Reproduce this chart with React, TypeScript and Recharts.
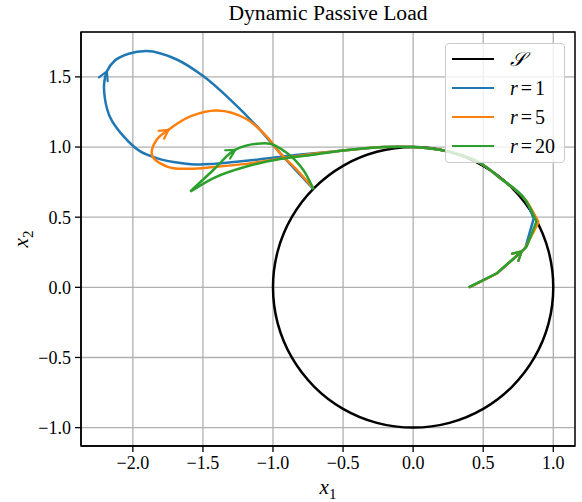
import React from 'react';
import { LineChart, Line, XAxis, YAxis, CartesianGrid, ReferenceArea } from 'recharts';

type P = { x: number; y: number; arrow?: boolean };

const FONT = '"Liberation Serif", "Times New Roman", serif';
const BLUE = '#1f77b4';
const ORANGE = '#ff7f0e';
const GREEN = '#2ca02c';

const X_DOMAIN: [number, number] = [-2.37, 1.155];
const Y_DOMAIN: [number, number] = [-1.131, 1.82];
const xTicks = [-2, -1.5, -1, -0.5, 0, 0.5, 1];
const yTicks = [-1, -0.5, 0, 0.5, 1, 1.5];

const legendLabels = ['𝒮', 'r = 1', 'r = 5', 'r = 20'];

// unit circle S, sampled every 15 degrees
const circlePts: P[] = [
  { x: 1, y: 0 }, { x: 0.966, y: 0.259 }, { x: 0.866, y: 0.5 }, { x: 0.707, y: 0.707 },
  { x: 0.5, y: 0.866 }, { x: 0.259, y: 0.966 }, { x: 0, y: 1 }, { x: -0.259, y: 0.966 },
  { x: -0.5, y: 0.866 }, { x: -0.707, y: 0.707 }, { x: -0.866, y: 0.5 }, { x: -0.966, y: 0.259 },
  { x: -1, y: 0 }, { x: -0.966, y: -0.259 }, { x: -0.866, y: -0.5 }, { x: -0.707, y: -0.707 },
  { x: -0.5, y: -0.866 }, { x: -0.259, y: -0.966 }, { x: 0, y: -1 }, { x: 0.259, y: -0.966 },
  { x: 0.5, y: -0.866 }, { x: 0.707, y: -0.707 }, { x: 0.866, y: -0.5 }, { x: 0.966, y: -0.259 },
  { x: 1, y: 0 },
];

// first leg (0.4, 0) -> corner near the circle
const blueStart: P[] = [
  { x: 0.4, y: 0 }, { x: 0.6, y: 0.1 }, { x: 0.775, y: 0.256, arrow: true }, { x: 0.8, y: 0.28 }, { x: 0.86, y: 0.49 },
];
const orangeStart: P[] = [
  { x: 0.4, y: 0 }, { x: 0.6, y: 0.1 }, { x: 0.775, y: 0.256, arrow: true }, { x: 0.8, y: 0.28 }, { x: 0.895, y: 0.465 },
];
const greenStart: P[] = [
  { x: 0.395, y: 0 }, { x: 0.597, y: 0.1 }, { x: 0.775, y: 0.256, arrow: true }, { x: 0.81, y: 0.29 }, { x: 0.88, y: 0.47 },
];

// shared run along the circle and leftwards over the top
const topRun: P[] = [
  { x: 0.8, y: 0.625 }, { x: 0.62, y: 0.78 }, { x: 0.478, y: 0.886 }, { x: 0.19, y: 0.98 },
  { x: 0, y: 1.0 }, { x: -0.21, y: 1.0 }, { x: -0.5, y: 0.975 },
];

const blueLoop: P[] = [
  { x: -0.8, y: 0.946 }, { x: -1.19, y: 0.902 }, { x: -1.426, y: 0.88 }, { x: -1.52, y: 0.875 },
  { x: -1.66, y: 0.886 }, { x: -1.83, y: 0.921 }, { x: -1.947, y: 0.969 }, { x: -2.066, y: 1.076 },
  { x: -2.165, y: 1.218 }, { x: -2.2, y: 1.35 }, { x: -2.205, y: 1.45 }, { x: -2.185, y: 1.54, arrow: true },
  { x: -2.13, y: 1.615 }, { x: -2.03, y: 1.665 }, { x: -1.9, y: 1.684 }, { x: -1.687, y: 1.624 },
  { x: -1.496, y: 1.504 }, { x: -1.305, y: 1.338 }, { x: -1.115, y: 1.147 }, { x: -0.949, y: 0.957 },
  { x: -0.711, y: 0.7 },
];

const orangeLoop: P[] = [
  { x: -0.8, y: 0.94 }, { x: -1.19, y: 0.88 }, { x: -1.424, y: 0.858 }, { x: -1.59, y: 0.845 },
  { x: -1.76, y: 0.862 }, { x: -1.864, y: 0.945 }, { x: -1.83, y: 1.052 }, { x: -1.745, y: 1.123, arrow: true },
  { x: -1.59, y: 1.218 }, { x: -1.4, y: 1.261 }, { x: -1.19, y: 1.2 }, { x: -1.046, y: 1.076 },
  { x: -0.95, y: 0.957 }, { x: -0.83, y: 0.838 }, { x: -0.711, y: 0.705 },
];

const greenLower: P[] = [
  { x: -0.713, y: 0.945 }, { x: -0.95, y: 0.914 }, { x: -1.19, y: 0.861 }, { x: -1.424, y: 0.779 },
  { x: -1.59, y: 0.683 },
];
const greenUpper: P[] = [
  { x: -1.59, y: 0.683 }, { x: -1.424, y: 0.838 }, { x: -1.27, y: 0.98, arrow: true }, { x: -1.115, y: 1.024 },
  { x: -1.02, y: 1.024 }, { x: -0.9, y: 0.957 }, { x: -0.785, y: 0.838 }, { x: -0.71, y: 0.7 },
];

const blueRest = [blueStart[blueStart.length - 1], ...topRun, ...blueLoop];
const orangeRest = [orangeStart[orangeStart.length - 1], ...topRun, ...orangeLoop];
const greenRest = [greenStart[greenStart.length - 1], ...topRun, ...greenLower];

// chord-length Catmull-Rom style curve factory (d3 curve interface)
const smoothCurve = (context: any) => {
  let pts: number[][] = [];
  return {
    areaStart() {},
    areaEnd() {},
    lineStart() { pts = []; },
    point(x: number, y: number) { pts.push([+x, +y]); },
    lineEnd() {
      const n = pts.length;
      if (!n) return;
      context.moveTo(pts[0][0], pts[0][1]);
      if (n < 3) {
        for (let i = 1; i < n; i++) context.lineTo(pts[i][0], pts[i][1]);
        return;
      }
      const closed = Math.abs(pts[0][0] - pts[n - 1][0]) < 1e-6 && Math.abs(pts[0][1] - pts[n - 1][1]) < 1e-6;
      const d = (a: number[], b: number[]) => Math.hypot(b[0] - a[0], b[1] - a[1]) || 1e-9;
      const tangent = (i: number) => {
        let prev: number[], next: number[];
        if (i === 0) {
          if (closed) { prev = pts[n - 2]; next = pts[1]; }
          else { const t = [pts[1][0] - pts[0][0], pts[1][1] - pts[0][1]]; const l = Math.hypot(t[0], t[1]) || 1; return [t[0] / l, t[1] / l]; }
        } else if (i === n - 1) {
          if (closed) { prev = pts[n - 2]; next = pts[1]; }
          else { const t = [pts[n - 1][0] - pts[n - 2][0], pts[n - 1][1] - pts[n - 2][1]]; const l = Math.hypot(t[0], t[1]) || 1; return [t[0] / l, t[1] / l]; }
        } else { prev = pts[i - 1]; next = pts[i + 1]; }
        const cur = pts[i];
        const d1 = d(prev, cur), d2 = d(cur, next);
        const v = [
          (cur[0] - prev[0]) / d1 * d2 + (next[0] - cur[0]) / d2 * d1,
          (cur[1] - prev[1]) / d1 * d2 + (next[1] - cur[1]) / d2 * d1,
        ];
        const l = Math.hypot(v[0], v[1]) || 1;
        return [v[0] / l, v[1] / l];
      };
      const tans = pts.map((_, i) => tangent(i));
      for (let i = 0; i < n - 1; i++) {
        const a = pts[i], b = pts[i + 1];
        const L = d(a, b) / 3;
        context.bezierCurveTo(
          a[0] + tans[i][0] * L, a[1] + tans[i][1] * L,
          b[0] - tans[i + 1][0] * L, b[1] - tans[i + 1][1] * L,
          b[0], b[1],
        );
      }
    },
  };
};

const makeArrowDot = (data: P[], color: string) => (props: any) => {
  const { cx, cy, index } = props;
  const p = data[index];
  if (!p || !p.arrow || cx == null || cy == null) return <g key={`n-${index}`} />;
  const a = data[Math.max(0, index - 1)];
  const b = data[Math.min(data.length - 1, index + 1)];
  const ang = Math.atan2(-(b.y - a.y), b.x - a.x);
  const len = 10;
  const spread = 0.5;
  const x1 = cx - len * Math.cos(ang - spread);
  const y1 = cy - len * Math.sin(ang - spread);
  const x2 = cx - len * Math.cos(ang + spread);
  const y2 = cy - len * Math.sin(ang + spread);
  return (
    <path
      key={`a-${index}`}
      d={`M${x1},${y1}L${cx},${cy}L${x2},${y2}`}
      fill="none"
      stroke={color}
      strokeWidth={2.2}
      strokeLinecap="round"
      strokeLinejoin="round"
    />
  );
};

const fmt = (v: number) => (v < 0 ? '\u2212' : '') + Math.abs(v).toFixed(1);

const XTick = (props: any) => {
  const { x, y, payload } = props;
  return (
    <text x={x} y={y} dy="0.71em" textAnchor="middle" fontFamily={FONT} fontSize={18} fill="#000">
      {fmt(payload.value)}
    </text>
  );
};

const YTick = (props: any) => {
  const { x, y, payload } = props;
  return (
    <text x={x} y={y} dy="0.355em" textAnchor="end" fontFamily={FONT} fontSize={18} fill="#000">
      {fmt(payload.value)}
    </text>
  );
};

const XLabel = (props: any) => {
  const vb = props.viewBox || {};
  const cx = vb.x + vb.width / 2;
  return (
    <text x={cx} y={494} textAnchor="middle" fontFamily={FONT} fontSize={21} fill="#000">
      <tspan fontStyle="italic">x</tspan>
      <tspan fontSize={15} dy={5}>1</tspan>
    </text>
  );
};

const YLabel = (props: any) => {
  const vb = props.viewBox || {};
  const cy = vb.y + vb.height / 2;
  const x = 28;
  return (
    <text x={x} y={cy} transform={`rotate(-90 ${x} ${cy})`} textAnchor="middle" fontFamily={FONT} fontSize={21} fill="#000">
      <tspan fontStyle="italic">x</tspan>
      <tspan fontSize={15} dy={5}>2</tspan>
    </text>
  );
};

const lineCommon = {
  dataKey: 'y',
  isAnimationActive: false,
  strokeWidth: 2.5,
  activeDot: false as const,
  legendType: 'none' as const,
};

const legendColors = ['#000', BLUE, ORANGE, GREEN];

const LegendLabel = ({ text }: { text: string }) => {
  if (text.startsWith('r')) {
    const rest = text.slice(1).replace(/\s*=\s*/, '');
    return (
      <span>
        <span style={{ fontStyle: 'italic' }}>r</span>
        <span style={{ margin: '0 3px' }}>=</span>
        <span>{rest}</span>
      </span>
    );
  }
  return <span style={{ fontStyle: 'italic' }}>{text}</span>;
};

export default function App() {
  return (
    <div style={{ position: 'absolute', left: 0, top: 0, width: 582, height: 502, background: '#fff', fontFamily: FONT }}>
      <div
        style={{
          position: 'absolute', left: 81, top: 3, width: 494, textAlign: 'center',
          fontFamily: FONT, fontSize: 21.6, lineHeight: '21.6px', color: '#000',
        }}
      >
        Dynamic Passive Load
      </div>
      <LineChart width={582} height={502} margin={{ top: 32, right: 7, bottom: 0, left: 0 }} style={{ fontFamily: FONT }}>
        <CartesianGrid stroke="#b0b0b0" strokeWidth={1.3} />
        <XAxis
          type="number"
          dataKey="x"
          domain={X_DOMAIN}
          ticks={xTicks}
          allowDataOverflow
          height={56}
          tickFormatter={fmt}
          tick={<XTick />}
          tickSize={6}
          tickMargin={4}
          stroke="#000"
          tickLine={{ stroke: '#000', strokeWidth: 1.3 }}
          axisLine={{ stroke: '#000', strokeWidth: 1.4 }}
          label={<XLabel />}
        />
        <YAxis
          type="number"
          dataKey="y"
          domain={Y_DOMAIN}
          ticks={yTicks}
          allowDataOverflow
          width={81}
          tickFormatter={fmt}
          tick={<YTick />}
          tickSize={6}
          tickMargin={4}
          stroke="#000"
          tickLine={{ stroke: '#000', strokeWidth: 1.3 }}
          axisLine={{ stroke: '#000', strokeWidth: 1.4 }}
          label={<YLabel />}
        />
        <Line {...lineCommon} data={circlePts} stroke="#000" type={smoothCurve as any} dot={false} />
        <Line {...lineCommon} data={blueStart} stroke={BLUE} type="linear" dot={makeArrowDot(blueStart, BLUE)} />
        <Line {...lineCommon} data={blueRest} stroke={BLUE} type={smoothCurve as any} dot={makeArrowDot(blueRest, BLUE)} />
        <Line {...lineCommon} data={orangeStart} stroke={ORANGE} type="linear" dot={makeArrowDot(orangeStart, ORANGE)} />
        <Line {...lineCommon} data={orangeRest} stroke={ORANGE} type={smoothCurve as any} dot={makeArrowDot(orangeRest, ORANGE)} />
        <Line {...lineCommon} data={greenStart} stroke={GREEN} type="linear" dot={makeArrowDot(greenStart, GREEN)} />
        <Line {...lineCommon} data={greenRest} stroke={GREEN} type={smoothCurve as any} dot={makeArrowDot(greenRest, GREEN)} />
        <Line {...lineCommon} data={greenUpper} stroke={GREEN} type={smoothCurve as any} dot={makeArrowDot(greenUpper, GREEN)} />
        <ReferenceArea
          x1={X_DOMAIN[0]} x2={X_DOMAIN[1]} y1={Y_DOMAIN[0]} y2={Y_DOMAIN[1]}
          fill="none" fillOpacity={0} stroke="#000" strokeWidth={1.4} ifOverflow="visible"
        />
      </LineChart>
      <div
        style={{
          position: 'absolute', left: 445, top: 43, width: 120, height: 120, boxSizing: 'border-box',
          border: '1.3px solid #cccccc', borderRadius: 4, background: 'rgba(255,255,255,0.8)',
          fontFamily: FONT, fontSize: 20, color: '#000',
        }}
      >
        {legendLabels.map((lab, i) => (
          <div key={lab} style={{ position: 'absolute', left: 0, top: 0.5 + i * 29, height: 29, width: 118 }}>
            <div style={{ position: 'absolute', left: 6, top: 13, width: 42, height: 2.5, background: legendColors[i] }} />
            <div style={{ position: 'absolute', left: 64, top: 0, lineHeight: '29px', whiteSpace: 'nowrap' }}>
              <LegendLabel text={lab} />
            </div>
          </div>
        ))}
      </div>
    </div>
  );
}
